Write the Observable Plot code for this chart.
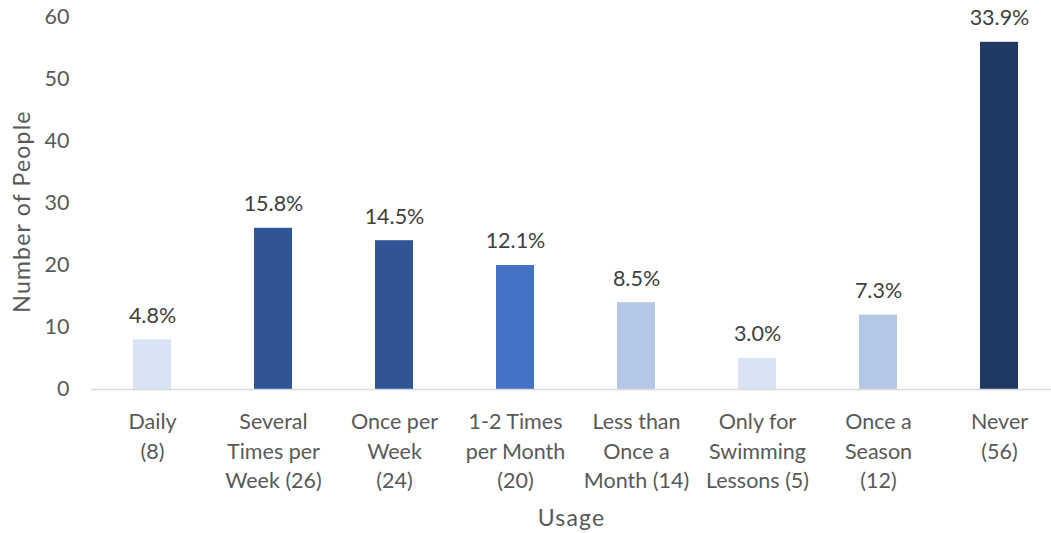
<!DOCTYPE html>
<html>
<head>
<meta charset="utf-8">
<script src="https://cdn.jsdelivr.net/npm/d3@7"></script>
<script src="https://cdn.jsdelivr.net/npm/@observablehq/plot@0.6"></script>
<style>
  html, body { margin: 0; padding: 0; background: #fff; overflow: hidden; }
  svg { display: block; }
  .axis-title text { letter-spacing: 1.2px; }
</style>
</head>
<body>
<div id="chart"></div>
<script>
const categories = ["Daily\n(8)", "Several\nTimes per\nWeek (26)", "Once per\nWeek\n(24)", "1-2 Times\nper Month\n(20)", "Less than\nOnce a\nMonth (14)", "Only for\nSwimming\nLessons (5)", "Once a\nSeason\n(12)", "Never\n(56)"];
const counts = [8, 26, 24, 20, 14, 5, 12, 56];
const percents = ["4.8%", "15.8%", "14.5%", "12.1%", "8.5%", "3.0%", "7.3%", "33.9%"];
const barColors = ["#dae3f3", "#2f5597", "#2f5597", "#4472c4", "#b4c7e7", "#dae3f3", "#b4c7e7", "#203864"];
const yTicks = [0, 10, 20, 30, 40, 50, 60];
const yTitle = "Number of People";
const xTitle = "Usage";

const data = categories.map((c, i) => ({cat: c, n: counts[i], pct: percents[i], color: barColors[i]}));
const font = "Lato, 'Open Sans', sans-serif";
const textColor = "#595959";
const fs = 21.5;
const titleFs = 23;

const chart = Plot.plot({
  width: 1051,
  height: 533,
  marginTop: 17,
  marginBottom: 144,
  marginLeft: 91,
  marginRight: 0,
  style: {fontFamily: font, fontSize: fs + "px", color: textColor, background: "#fff"},
  x: {domain: categories, range: [91.5, 1059.5], paddingInner: 0.686, paddingOuter: 0.343, axis: null},
  y: {domain: [0, 60], ticks: yTicks, axis: null},
  marks: [
    Plot.barY(data, {x: "cat", y: "n", fill: "color"}),
    Plot.ruleY([0], {stroke: "#d9d9d9", strokeWidth: 1.5}),
    Plot.axisY({ticks: yTicks, tickSize: 0, tickPadding: 22, label: null, fontSize: fs, fill: textColor}),
    Plot.text(data, {x: "cat", y: "n", text: "pct", dy: -24, fontSize: fs, fill: "#404040"}),
    Plot.text(data, {x: "cat", text: "cat", frameAnchor: "bottom", lineAnchor: "top", dy: 19, lineHeight: 1.36, fontSize: fs, fill: textColor}),
    Plot.text([yTitle], {frameAnchor: "left", textAnchor: "middle", lineAnchor: "middle", dx: -69, dy: 8, rotate: -90, fontSize: titleFs, fill: textColor, className: "axis-title"}),
    Plot.text([xTitle], {frameAnchor: "bottom", lineAnchor: "middle", dy: 129, fontSize: titleFs, fill: textColor, className: "axis-title"})
  ]
});
document.getElementById("chart").appendChild(chart);
</script>
</body>
</html>
